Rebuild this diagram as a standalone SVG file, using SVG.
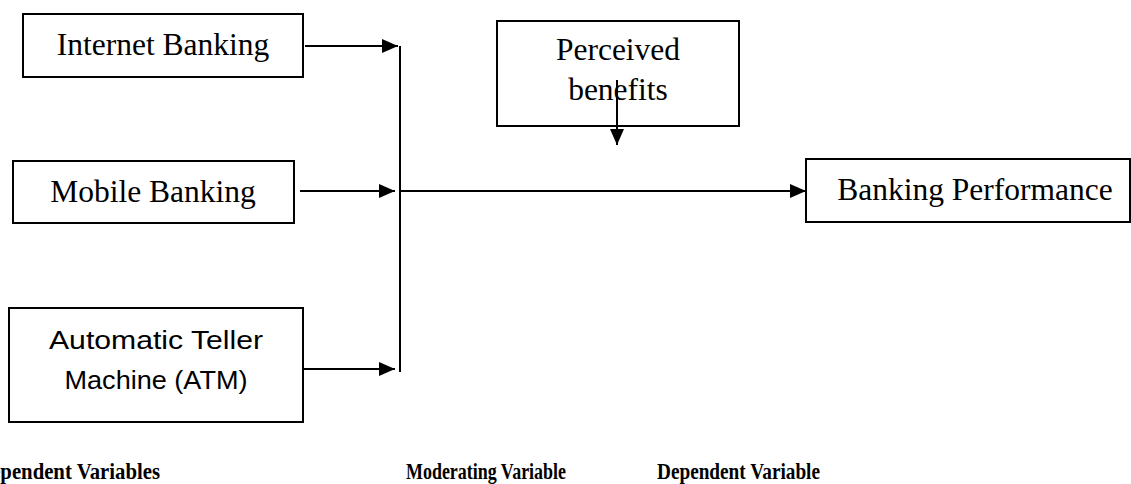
<svg xmlns="http://www.w3.org/2000/svg" width="1131" height="484" viewBox="0 0 1131 484">
  <style>
    .box { fill: #ffffff; stroke: #000000; stroke-width: 2; }
    .serif { font-family: "Liberation Serif", "Times New Roman", serif; font-size: 31.5px; fill: #000000; text-anchor: middle; }
    .sans { font-family: "Liberation Sans", Arial, sans-serif; font-size: 25px; fill: #000000; text-anchor: middle; }
    .label { font-family: "Liberation Serif", "Times New Roman", serif; font-weight: bold; font-size: 24px; fill: #000000; }
    .wire { fill: none; stroke: #000000; stroke-width: 2; }
  </style>
  <defs>
    <marker id="arrow" viewBox="0 0 16 14" refX="16" refY="7" markerWidth="16" markerHeight="14" markerUnits="userSpaceOnUse" orient="auto">
      <path d="M0,0 L16,7 L0,14 Z" fill="#000000"/>
    </marker>
  </defs>

  <g id="internet-banking">
    <rect class="box" x="23" y="14" width="280" height="63"/>
    <text class="serif" x="163" y="55">Internet Banking</text>
  </g>

  <g id="mobile-banking">
    <rect class="box" x="13" y="161" width="281" height="62"/>
    <text class="serif" x="153" y="202">Mobile Banking</text>
  </g>

  <g id="atm">
    <rect class="box" x="9" y="308" width="294" height="114"/>
    <text class="sans" x="156" y="349" textLength="214" lengthAdjust="spacingAndGlyphs">Automatic Teller</text>
    <text class="sans" x="156" y="389" textLength="183" lengthAdjust="spacingAndGlyphs">Machine (ATM)</text>
  </g>

  <g id="perceived-benefits">
    <rect class="box" x="497" y="21" width="242" height="105"/>
    <text class="serif" x="618" y="60">Perceived</text>
    <text class="serif" x="618" y="100">benefits</text>
  </g>

  <g id="banking-performance">
    <rect class="box" x="806" y="159" width="324" height="63"/>
    <text class="serif" x="975" y="200">Banking Performance</text>
  </g>

  <g id="connectors">
    <line class="wire" x1="305" y1="46" x2="398" y2="46" marker-end="url(#arrow)"/>
    <line class="wire" x1="300" y1="191" x2="395" y2="191" marker-end="url(#arrow)"/>
    <line class="wire" x1="303" y1="369" x2="395" y2="369" marker-end="url(#arrow)"/>
    <line class="wire" x1="400" y1="46" x2="400" y2="372"/>
    <line class="wire" x1="400" y1="191" x2="806" y2="191" marker-end="url(#arrow)"/>
    <line class="wire" x1="617" y1="80" x2="617" y2="145" marker-end="url(#arrow)"/>
  </g>

  <g id="legend">
    <text class="label" x="-40" y="479" textLength="200" lengthAdjust="spacingAndGlyphs">Independent Variables</text>
    <text class="label" x="406" y="479" textLength="160" lengthAdjust="spacingAndGlyphs">Moderating Variable</text>
    <text class="label" x="657" y="479" textLength="163" lengthAdjust="spacingAndGlyphs">Dependent Variable</text>
  </g>
</svg>
